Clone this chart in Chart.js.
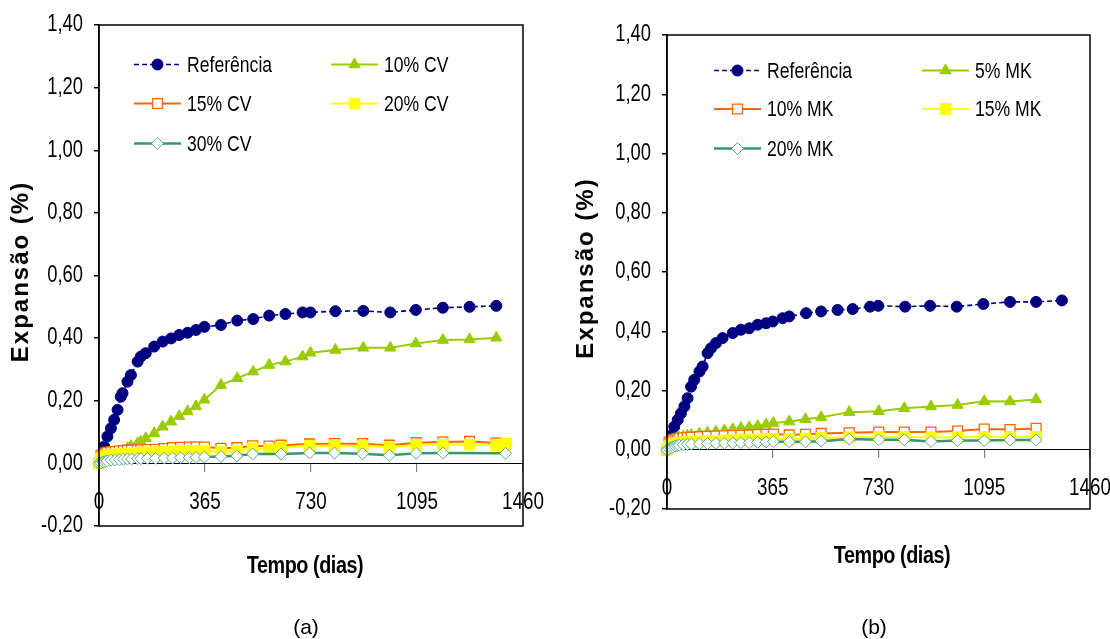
<!DOCTYPE html>
<html>
<head>
<meta charset="utf-8">
<script src="https://cdn.jsdelivr.net/npm/chart.js@4.4.1/dist/chart.umd.min.js"></script>
<style>
  html, body { margin: 0; padding: 0; background: #fff; overflow: hidden; width: 1110px; height: 639px; }
  .painel { position: absolute; top: 0; height: 639px; }
  .rotulo { position: absolute; transform: translate(-50%, -50%); white-space: nowrap; color: #000; }
  .eixo-x { font: bold 23px 'Liberation Sans', Arial, sans-serif; transform: translate(-50%, -50%) scaleX(0.86); letter-spacing: -0.5px; }
  .legenda-fig { font: 21px 'Liberation Sans', Arial, sans-serif; }
</style>
</head>
<body>
<div class="painel" style="left:0;width:555px"><canvas id="graf-a" width="555" height="639"></canvas></div>
<div class="painel" style="left:555px;width:600px"><canvas id="graf-b" width="600" height="639"></canvas></div>

<div class="rotulo eixo-x" style="left:305px;top:565px">Tempo (dias)</div>
<div class="rotulo eixo-x" style="left:892px;top:555px">Tempo (dias)</div>
<div class="rotulo legenda-fig" style="left:306px;top:627px">(a)</div>
<div class="rotulo legenda-fig" style="left:874px;top:627px">(b)</div>

<script>
// ---- dados (a): cinza volante ----
const dias_ref_a = [0, 11, 18, 29, 41, 52, 64, 75, 81, 98, 110, 133, 144, 161, 190, 219, 248, 276, 305, 334, 363, 420, 476, 531, 586, 642, 701, 728, 814, 910, 1003, 1091, 1184, 1276, 1368];
const referencia_a = [0, 0.03, 0.054, 0.086, 0.112, 0.139, 0.171, 0.213, 0.224, 0.261, 0.282, 0.325, 0.341, 0.352, 0.373, 0.389, 0.399, 0.41, 0.417, 0.426, 0.436, 0.442, 0.456, 0.461, 0.472, 0.477, 0.482, 0.482, 0.486, 0.487, 0.482, 0.49, 0.497, 0.5, 0.503];
const cv10 = [0, 0.003, 0.006, 0.01, 0.015, 0.02, 0.028, 0.035, 0.04, 0.048, 0.055, 0.064, 0.07, 0.08, 0.096, 0.117, 0.133, 0.15, 0.166, 0.182, 0.203, 0.25, 0.272, 0.293, 0.314, 0.325, 0.341, 0.353, 0.362, 0.369, 0.369, 0.383, 0.394, 0.396, 0.401];
const dias_a = [0, 7, 14, 21, 28, 42, 56, 70, 84, 98, 112, 133, 144, 167, 195, 225, 253, 281, 311, 334, 363, 420, 475, 529, 586, 627, 725, 811, 908, 1000, 1092, 1184, 1276, 1368, 1400];
const cv15 = [0, 0.025, 0.03, 0.033, 0.035, 0.037, 0.038, 0.04, 0.04, 0.042, 0.042, 0.043, 0.043, 0.044, 0.045, 0.047, 0.05, 0.051, 0.052, 0.052, 0.052, 0.048, 0.05, 0.056, 0.055, 0.058, 0.062, 0.063, 0.063, 0.058, 0.066, 0.068, 0.07, 0.065, 0.062];
const cv20 = [0, 0.015, 0.02, 0.022, 0.025, 0.027, 0.028, 0.03, 0.03, 0.032, 0.032, 0.033, 0.034, 0.035, 0.036, 0.037, 0.038, 0.039, 0.04, 0.04, 0.041, 0.036, 0.04, 0.048, 0.045, 0.05, 0.056, 0.057, 0.055, 0.052, 0.059, 0.06, 0.06, 0.058, 0.062];
const cv30 = [0, 0.002, 0.004, 0.006, 0.008, 0.01, 0.011, 0.012, 0.013, 0.014, 0.014, 0.015, 0.015, 0.016, 0.016, 0.017, 0.017, 0.018, 0.018, 0.019, 0.02, 0.022, 0.024, 0.03, null, 0.03, 0.033, 0.033, 0.031, 0.026, 0.032, 0.033, null, null, 0.032];

// ---- dados (b): metacaulim ----
const dias_ref_b = [0, 10, 17, 25, 37, 48, 60, 71, 83, 94, 112, 123, 140, 152, 169, 192, 227, 255, 284, 313, 342, 365, 399, 422, 480, 532, 589, 641, 701, 729, 822, 908, 1000, 1092, 1184, 1274, 1363];
const referencia_b = [0, 0.025, 0.05, 0.078, 0.101, 0.123, 0.146, 0.174, 0.213, 0.236, 0.264, 0.281, 0.326, 0.343, 0.36, 0.377, 0.394, 0.405, 0.41, 0.422, 0.427, 0.433, 0.444, 0.45, 0.461, 0.467, 0.472, 0.475, 0.483, 0.486, 0.483, 0.486, 0.483, 0.492, 0.499, 0.499, 0.504];
const dias_b = [0, 7, 14, 21, 28, 35, 42, 56, 70, 84, 112, 140, 169, 198, 227, 255, 284, 313, 342, 367, 422, 478, 532, 629, 731, 819, 911, 1003, 1095, 1184, 1274];
const mk5 = [0, 0.02, 0.028, 0.033, 0.036, 0.039, 0.041, 0.044, 0.047, 0.05, 0.054, 0.058, 0.061, 0.065, 0.069, 0.073, 0.076, 0.08, 0.085, 0.09, 0.095, 0.103, 0.11, 0.127, 0.13, 0.14, 0.146, 0.151, 0.164, 0.163, 0.17];
const mk10 = [0, 0.025, 0.03, 0.033, 0.035, 0.037, 0.038, 0.04, 0.041, 0.042, 0.044, 0.045, 0.046, 0.047, 0.048, 0.049, 0.05, 0.051, 0.052, 0.053, 0.05, 0.052, 0.055, 0.057, 0.06, 0.06, 0.06, 0.063, 0.07, 0.068, 0.072];
const mk15 = [0, 0.012, 0.016, 0.019, 0.021, 0.022, 0.023, 0.025, 0.026, 0.027, 0.028, 0.029, 0.03, 0.031, 0.032, 0.033, 0.034, 0.035, 0.036, 0.037, 0.036, 0.038, 0.04, 0.042, 0.043, 0.043, 0.042, 0.042, 0.043, 0.044, 0.044];
const mk20 = [0, 0.004, 0.007, 0.01, 0.012, 0.014, 0.015, 0.017, 0.018, 0.019, 0.02, 0.021, 0.022, 0.022, 0.023, 0.024, 0.024, 0.025, 0.026, 0.027, 0.027, 0.027, 0.029, 0.036, 0.034, 0.034, 0.028, 0.031, 0.031, 0.033, 0.033];

const ticksY = [-0.2, 1.4, 0.2];      // min, max, passo
const ticksX = [0, 1460, 365];
const tituloY = 'Expansão (%)';

const FONTE = "'Liberation Sans', Arial, sans-serif";
Chart.defaults.font.family = FONTE;
Chart.defaults.color = '#000';

const pontos = (xs, ys) => xs.map((x, i) => ({x: x, y: ys[i]})).filter(p => p.y !== null);
const fmtY = v => (Math.abs(v) < 1e-9 ? 0 : v).toFixed(2).replace('.', ',');

// texto estreito (a fonte original e condensada)
function texto(ctx, s, x, y, align, sx) {
    ctx.save();
    ctx.translate(x, y);
    ctx.scale(sx, 1);
    ctx.textAlign = align;
    ctx.fillText(s, 0, 0);
    ctx.restore();
}

// estilos das 5 series (mesma ordem nos dois graficos)
const estilos = [
    {borderColor: '#000080', borderWidth: 1.6, borderDash: [5, 3], pointStyle: 'circle', pointRadius: 5.5, pointBackgroundColor: '#000080', pointBorderColor: '#000080', pointBorderWidth: 1},
    {borderColor: '#99CC00', borderWidth: 2, pointStyle: 'triangle', pointRadius: 6.5, pointBackgroundColor: '#99CC00', pointBorderColor: '#99CC00', pointBorderWidth: 1},
    {borderColor: '#FF6600', borderWidth: 2, pointStyle: 'rect', pointRadius: 7, pointBackgroundColor: '#FFFFFF', pointBorderColor: '#FF6600', pointBorderWidth: 1.3},
    {borderColor: '#FFFF00', borderWidth: 2, pointStyle: 'rect', pointRadius: 7.5, pointBackgroundColor: '#FFFF00', pointBorderColor: '#FFFF00', pointBorderWidth: 1},
    {borderColor: '#339966', borderWidth: 2.5, pointStyle: 'rectRot', pointRadius: 6, pointBackgroundColor: '#FFFFFF', pointBorderColor: '#55AA88', pointBorderWidth: 1}
];

// legenda desenhada dentro da area do grafico, em duas colunas
const legendaInterna = {
    id: 'legendaInterna',
    afterDraw(chart, args, opts) {
        const {ctx, chartArea} = chart;
        chart.data.datasets.forEach((ds, i) => {
            const x0 = chartArea.left + opts.cols[i % 2];
            const y = chartArea.top + opts.rows[Math.floor(i / 2)];
            ctx.save();
            ctx.strokeStyle = ds.borderColor;
            ctx.lineWidth = ds.borderWidth;
            ctx.setLineDash(ds.borderDash || []);
            ctx.beginPath();
            ctx.moveTo(x0, y);
            ctx.lineTo(x0 + opts.comp, y);
            ctx.stroke();
            ctx.setLineDash([]);
            ctx.fillStyle = ds.pointBackgroundColor;
            ctx.strokeStyle = ds.pointBorderColor;
            ctx.lineWidth = ds.pointBorderWidth;
            Chart.helpers.drawPoint(ctx, {pointStyle: ds.pointStyle, radius: ds.pointRadius, borderWidth: ds.pointBorderWidth, rotation: 0}, x0 + opts.comp / 2, y);
            ctx.fillStyle = '#000';
            ctx.font = '22px ' + FONTE;
            ctx.textBaseline = 'middle';
            texto(ctx, ds.label, x0 + opts.comp + 6, y + 1, 'left', 0.8);
            ctx.restore();
        });
    }
};

// moldura, rotulos dos eixos e titulo vertical
const moldura = {
    id: 'moldura',
    afterDatasetsDraw(chart) {
        const {ctx, chartArea: a} = chart;
        ctx.save();
        ctx.strokeStyle = '#000';
        ctx.lineWidth = 1.5;
        ctx.strokeRect(a.left, a.top, a.right - a.left, a.bottom - a.top);
        ctx.restore();
    },
    afterDraw(chart, args, opts) {
        const {ctx, chartArea: a, scales: {x, y}} = chart;
        ctx.save();
        ctx.fillStyle = '#000';
        ctx.font = '23px ' + FONTE;
        ctx.textBaseline = 'middle';
        y.ticks.forEach(t => texto(ctx, fmtY(t.value), a.left - 16, y.getPixelForValue(t.value), 'right', 0.8));
        const y0 = y.getPixelForValue(0);
        x.ticks.forEach(t => texto(ctx, String(t.value), x.getPixelForValue(t.value), y0 + 39, 'center', 0.82));
        ctx.font = 'bold 24px ' + FONTE;
        ctx.letterSpacing = '2px';
        ctx.translate(opts.tituloX, (a.top + a.bottom) / 2 - 4);
        ctx.rotate(-Math.PI / 2);
        ctx.textAlign = 'center';
        ctx.fillText(tituloY, 0, 0);
        ctx.restore();
    }
};

function criarGrafico(id, series, geo) {
    const datasets = series.map((s, i) => Object.assign({
        label: s.label,
        data: pontos(s.x, s.y),
        showLine: true,
        spanGaps: true,
        clip: false,
        order: 5 - i,
        tension: 0
    }, estilos[i]));

    return new Chart(document.getElementById(id), {
        type: 'scatter',
        data: {datasets: datasets},
        options: {
            responsive: false,
            animation: false,
            layout: {padding: {left: 0, top: geo.top, right: geo.right, bottom: geo.bottom}},
            plugins: {
                legend: {display: false},
                tooltip: {enabled: false},
                legendaInterna: {cols: geo.cols, rows: geo.rows, comp: 47},
                moldura: {tituloX: geo.tituloX}
            },
            scales: {
                x: {
                    type: 'linear',
                    position: {y: 0},
                    min: ticksX[0], max: ticksX[1],
                    ticks: {stepSize: ticksX[2], display: false, autoSkip: false},
                    grid: {drawOnChartArea: false, drawTicks: true, tickLength: 8, color: '#808080', lineWidth: 1.2},
                    border: {display: true, color: '#000', width: 1}
                },
                y: {
                    min: ticksY[0], max: ticksY[1],
                    ticks: {stepSize: ticksY[2], display: false},
                    grid: {drawOnChartArea: false, drawTicks: true, tickLength: 5, color: '#000', lineWidth: 1.5},
                    border: {display: true, color: '#000', width: 1.5},
                    afterFit: s => { s.width = geo.larguraY; }
                }
            }
        },
        plugins: [moldura, legendaInterna]
    });
}

criarGrafico('graf-a', [
    {label: 'Referência', x: dias_ref_a, y: referencia_a},
    {label: '10% CV', x: dias_ref_a, y: cv10},
    {label: '15% CV', x: dias_a, y: cv15},
    {label: '20% CV', x: dias_a, y: cv20},
    {label: '30% CV', x: dias_a, y: cv30}
], {top: 25, right: 32, bottom: 113, larguraY: 99, tituloX: 21, cols: [35, 232], rows: [39.5, 78.5, 118.5]});

criarGrafico('graf-b', [
    {label: 'Referência', x: dias_ref_b, y: referencia_b},
    {label: '5% MK', x: dias_b, y: mk5},
    {label: '10% MK', x: dias_b, y: mk10},
    {label: '15% MK', x: dias_b, y: mk15},
    {label: '20% MK', x: dias_b, y: mk20}
], {top: 35, right: 65, bottom: 130, larguraY: 112, tituloX: 31, cols: [47, 255], rows: [35.5, 74, 113.5]});
</script>
</body>
</html>
